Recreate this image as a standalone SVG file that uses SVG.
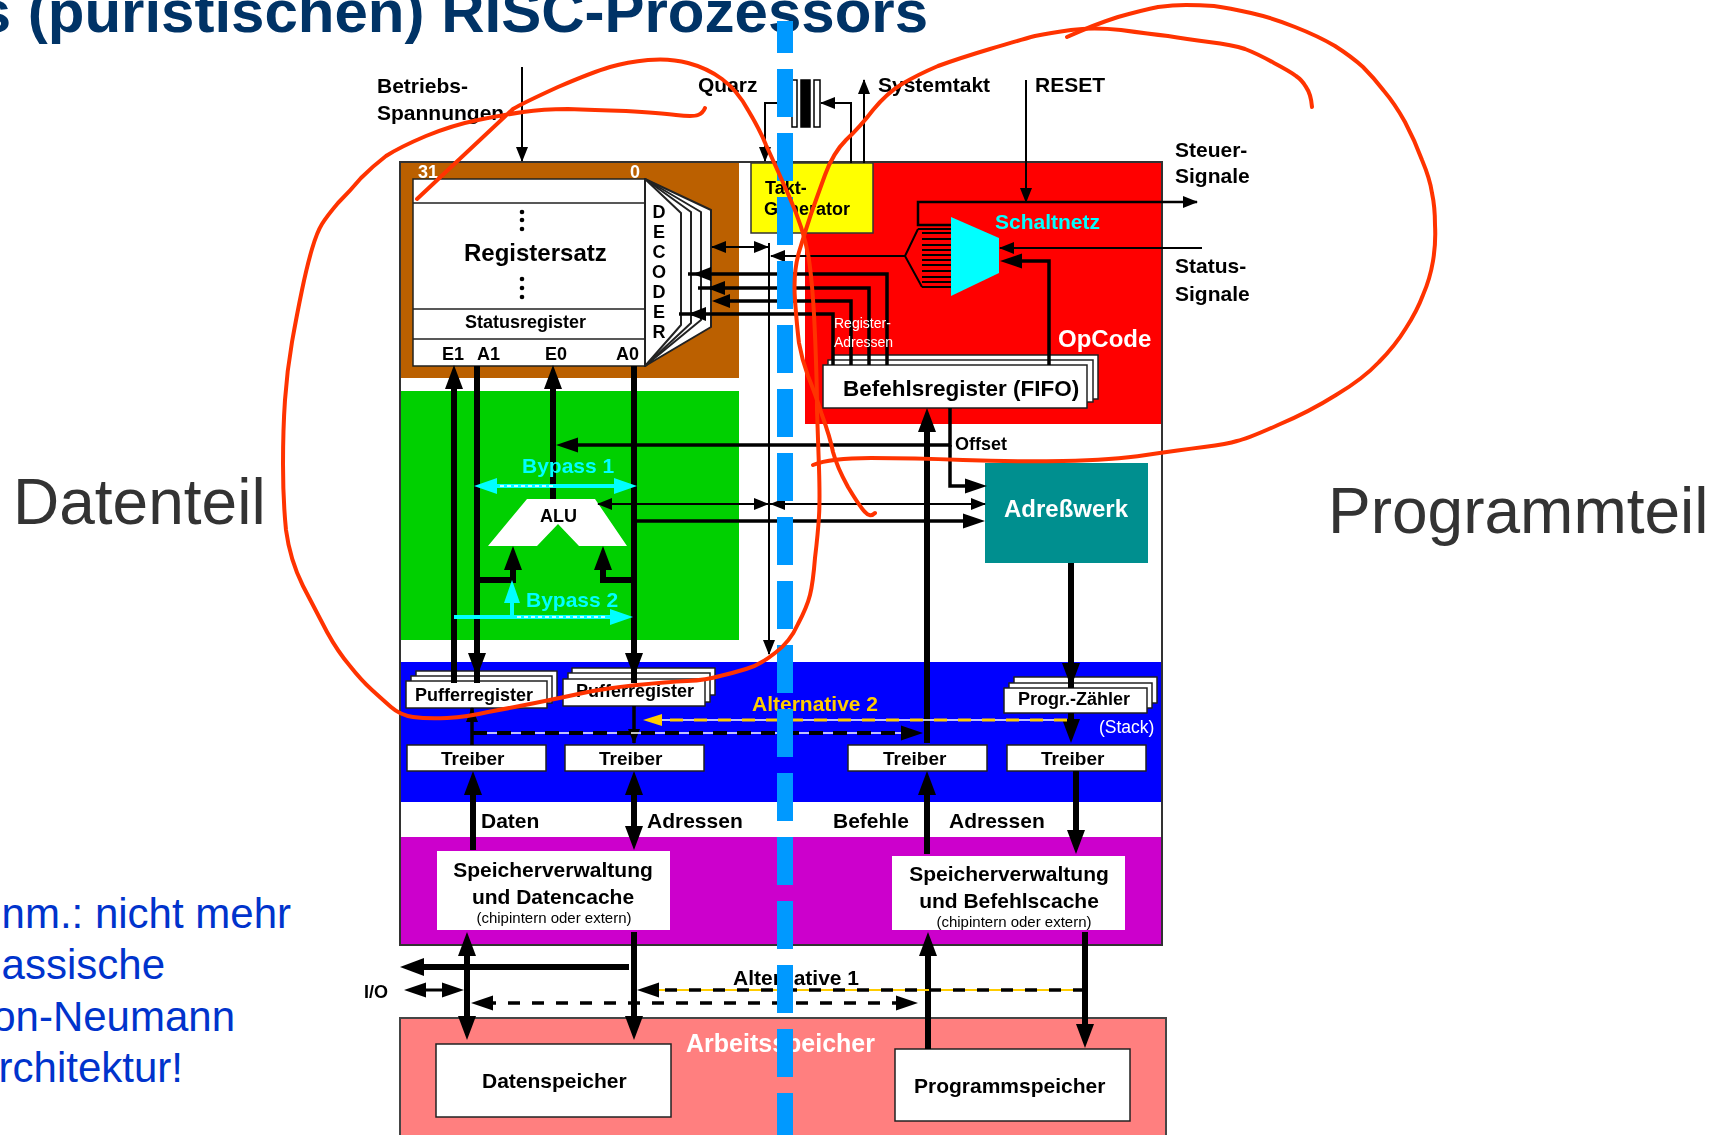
<svg xmlns="http://www.w3.org/2000/svg" width="1716" height="1135" viewBox="0 0 1716 1135">
<style>
text{font-family:"Liberation Sans",Arial,sans-serif;font-weight:bold;fill:#000}
.n{font-weight:normal}
.w{fill:#fff}.c{fill:#0ff}.y{fill:#fc0}
.s18{font-size:18px}.s19{font-size:19px}.s21{font-size:21px}.s24{font-size:24px}
.big{font-size:64px;font-weight:normal;fill:#333}
.note{font-size:42px;font-weight:normal;fill:#03c;text-anchor:end}
.box{fill:#fff;stroke:#222;stroke-width:1.5}
.m{text-anchor:middle}
.l{fill:none;stroke:#000}
.t1{stroke-width:2}.t3{stroke-width:3.5}.t6{stroke-width:6}
.ink{fill:none;stroke:#f30;stroke-width:4;stroke-linejoin:round;stroke-linecap:round}
</style>
<defs>
<filter id="soft" x="0" y="0" width="1" height="1" filterUnits="objectBoundingBox"><feGaussianBlur stdDeviation="0.5"/></filter>
<marker id="big" markerUnits="userSpaceOnUse" markerWidth="26" markerHeight="20" refX="12" refY="9" orient="auto-start-reverse" overflow="visible"><path d="M0 0L24 9L0 18Z"/></marker>
<marker id="med" markerUnits="userSpaceOnUse" markerWidth="24" markerHeight="16" refX="9" refY="7.5" orient="auto-start-reverse" overflow="visible"><path d="M0 0L22 7.5L0 15Z"/></marker>
<marker id="hd" markerUnits="userSpaceOnUse" markerWidth="20" markerHeight="16" refX="6" refY="7" orient="auto-start-reverse" overflow="visible"><path d="M0 0L18 7L0 14Z"/></marker>
<marker id="sm" markerUnits="userSpaceOnUse" markerWidth="16" markerHeight="14" refX="14" refY="6" orient="auto-start-reverse" overflow="visible"><path d="M0 0L15 6L0 12Z"/></marker>
<marker id="cy" markerUnits="userSpaceOnUse" markerWidth="24" markerHeight="18" refX="10" refY="8" orient="auto-start-reverse" overflow="visible"><path d="M0 0L23 8L0 16Z" fill="#0ff"/></marker>
<marker id="ye" markerUnits="userSpaceOnUse" markerWidth="20" markerHeight="14" refX="7" refY="6" orient="auto-start-reverse" overflow="visible"><path d="M0 0L19 6L0 12Z" fill="#fc0"/></marker>
</defs>
<rect width="1716" height="1135" fill="#fff"/>

<text id="title" x="928" y="32" text-anchor="end" style="font-size:60px;fill:#036">s (puristischen) RISC-Prozessors</text>

<g id="diagram" filter="url(#soft)">
<g id="panels">
<rect x="400" y="162" width="762" height="783" fill="#fff" stroke="#333" stroke-width="2"/>
<rect x="401" y="163" width="338" height="215" fill="#bb6000"/>
<rect x="401" y="391" width="338" height="249" fill="#00d000"/>
<path d="M873 163H1161V424H805V233H873Z" fill="#f00"/>
<rect x="401" y="662" width="760" height="140" fill="#00f"/>
<rect x="401" y="837" width="760" height="107" fill="#c0c"/>
<rect x="400" y="1018" width="766" height="130" fill="#ff7f7f" stroke="#444" stroke-width="2"/>
<text class="w s24" x="1058" y="347">OpCode</text>
<text class="w" x="686" y="1052" style="font-size:25px">Arbeitsspeicher</text>
</g>

<g id="registersatz">
<rect class="box" x="413" y="179" width="232" height="187" stroke-width="2"/>
<path d="M413 203H645M413 309H645M413 339H645" fill="none" stroke="#222" stroke-width="1.5"/>
<text class="w s18" x="418" y="178">31</text><text class="w s18" x="630" y="178">0</text>
<g fill="#000"><circle cx="522" cy="212" r="2.3"/><circle cx="522" cy="220" r="2.3"/><circle cx="522" cy="229" r="2.3"/><circle cx="522" cy="279" r="2.3"/><circle cx="522" cy="288" r="2.3"/><circle cx="522" cy="297" r="2.3"/></g>
<text class="s24" x="464" y="261">Registersatz</text>
<text class="s18" x="465" y="328">Statusregister</text>
<text class="s18" x="442" y="360">E1</text><text class="s18" x="477" y="360">A1</text><text class="s18" x="545" y="360">E0</text><text class="s18" x="616" y="360">A0</text>
</g>

<g id="decoder" fill="#fff" stroke="#222" stroke-width="2" stroke-linejoin="round">
<path d="M645 179L711 210V327L645 366Z"/>
<path d="M645 179L701 212V320L645 366Z"/>
<path d="M645 179L691 212V323L645 366Z"/>
<path d="M645 179L681 213V325L645 366Z"/>
<g stroke="none"><text class="s18 m" x="659" y="218">D</text><text class="s18 m" x="659" y="238">E</text><text class="s18 m" x="659" y="258">C</text><text class="s18 m" x="659" y="278">O</text><text class="s18 m" x="659" y="298">D</text><text class="s18 m" x="659" y="318">E</text><text class="s18 m" x="659" y="338">R</text></g>
</g>

<g id="taktgenerator">
<rect x="751" y="163" width="122" height="70" fill="#ff0" stroke="#333" stroke-width="1.5"/>
<text class="s18" x="765" y="194">Takt-</text><text class="s18" x="764" y="215">Generator</text>
</g>

<g id="quarz" stroke="#000" stroke-width="1.5">
<rect x="792" y="80" width="5" height="47" fill="#fff"/><rect x="801" y="80" width="9" height="47" fill="#000"/><rect x="814" y="80" width="6" height="47" fill="#fff"/>
</g>

<g id="schaltnetz">
<path d="M951 217L999 238V273L951 296Z" fill="#0ff"/>
<text class="c s21" x="995" y="229">Schaltnetz</text>
</g>

<g id="befehlsregister">
<rect class="box" x="833" y="355" width="265" height="44"/><rect class="box" x="828" y="360" width="265" height="42"/><rect class="box" x="823" y="365" width="264" height="43"/>
<text x="843" y="396" style="font-size:22.5px">Befehlsregister (FIFO)</text>
</g>

<g id="alu"><path d="M527 499H595L627 546H579L558 524L537 546H488Z" fill="#fff"/><text class="s18" x="540" y="522">ALU</text></g>

<g id="adresswerk"><rect x="985" y="463" width="163" height="100" fill="#008f8f"/><text class="w s24" x="1004" y="517">Adreßwerk</text></g>

<g id="puffer1"><rect class="box" x="416" y="671" width="141" height="28"/><rect class="box" x="411" y="676" width="141" height="27"/><rect class="box" x="406" y="681" width="141" height="27"/><text class="s18" x="415" y="701">Pufferregister</text></g>
<g id="puffer2"><rect class="box" x="572" y="668" width="143" height="27"/><rect class="box" x="568" y="673" width="142" height="29"/><rect class="box" x="563" y="679" width="142" height="27"/><text class="s18" x="576" y="697">Pufferregister</text></g>
<g id="progzaehler"><rect class="box" x="1014" y="677" width="143" height="26"/><rect class="box" x="1009" y="683" width="143" height="25"/><rect class="box" x="1004" y="688" width="143" height="25"/><text class="s18" x="1018" y="705">Progr.-Zähler</text></g>

<g id="treiber1"><rect class="box" x="407" y="745" width="139" height="26"/><text class="s19" x="441" y="765">Treiber</text></g>
<g id="treiber2"><rect class="box" x="565" y="745" width="139" height="26"/><text class="s19" x="599" y="765">Treiber</text></g>
<g id="treiber3"><rect class="box" x="848" y="745" width="139" height="26"/><text class="s19" x="883" y="765">Treiber</text></g>
<g id="treiber4"><rect class="box" x="1007" y="745" width="139" height="26"/><text class="s19" x="1041" y="765">Treiber</text></g>

<g id="datencache"><rect x="437" y="851" width="233" height="79" fill="#fff"/>
<text class="s21 m" x="553" y="877">Speicherverwaltung</text><text class="s21 m" x="553" y="904">und Datencache</text><text class="n m" x="554" y="923" style="font-size:15px">(chipintern oder extern)</text></g>
<g id="befehlscache"><rect x="892" y="856" width="233" height="74" fill="#fff"/>
<text class="s21 m" x="1009" y="881">Speicherverwaltung</text><text class="s21 m" x="1009" y="908">und Befehlscache</text><text class="n m" x="1014" y="927" style="font-size:15px">(chipintern oder extern)</text></g>
<g id="datenspeicher"><rect class="box" x="436" y="1044" width="235" height="73"/><text class="s21" x="482" y="1088">Datenspeicher</text></g>
<g id="programmspeicher"><rect class="box" x="895" y="1049" width="235" height="72"/><text class="s21" x="914" y="1093">Programmspeicher</text></g>

<g id="connectors">
<g class="l t6">
<path d="M454 683V377" marker-end="url(#big)"/>
<path d="M477 366V665" marker-end="url(#big)"/><path d="M477 665V683"/>
<path d="M553 499V377" marker-end="url(#big)"/>
<path d="M634 366V665" marker-end="url(#big)"/><path d="M634 665V683"/>
<path d="M477 580H513V558" marker-end="url(#big)"/>
<path d="M634 580H603V558" marker-end="url(#big)"/>
<path d="M473 850V783" marker-end="url(#big)"/>
<path d="M634 783V838" marker-start="url(#big)" marker-end="url(#big)"/>
<path d="M927 743V420" marker-end="url(#big)"/>
<path d="M927 854V783" marker-end="url(#big)"/>
<path d="M1071 563V675" marker-end="url(#big)"/><path d="M1071 675V688"/>
<path d="M1071 713V731" marker-end="url(#big)"/>
<path d="M1076 771V842" marker-end="url(#big)"/>
<path d="M928 1049V944" marker-end="url(#big)"/>
<path d="M467 944V1028" marker-start="url(#big)" marker-end="url(#big)"/>
<path d="M634 932V1028" marker-end="url(#big)"/>
<path d="M629 967H412" marker-end="url(#big)"/>
<path d="M1085 932V1036" marker-end="url(#big)"/>
</g>
<g class="l t3">
<path d="M950 408V445H569" marker-end="url(#med)"/>
<path d="M950 445V486H974" marker-end="url(#med)"/>
<path d="M634 521H972" marker-end="url(#med)"/>
<path d="M1049 365V261H1013" marker-end="url(#med)"/>
<path d="M887 365V274H705" marker-end="url(#hd)"/><path d="M705 274H688"/>
<path d="M869 365V288H719" marker-end="url(#hd)"/><path d="M719 288H698"/>
<path d="M851 365V301H724" marker-end="url(#hd)"/>
<path d="M833 365V314H700" marker-end="url(#hd)"/><path d="M700 314H679"/>
<path d="M472 745V708" marker-end="url(#sm)"/>
<path d="M634 706V743" marker-end="url(#sm)"/>
<path d="M417 990H451" stroke-width="3" marker-start="url(#med)" marker-end="url(#med)"/>
</g>
<g class="l t1">
<path d="M598 504H985" marker-start="url(#sm)" marker-end="url(#sm)"/>
<path d="M750 504H768" marker-end="url(#sm)"/>
<path d="M790 504H771" marker-end="url(#sm)"/>
<path d="M769 243V654" marker-end="url(#sm)"/>
<path d="M712 247H768" marker-start="url(#sm)" marker-end="url(#sm)"/>
<path d="M905 256H771" marker-end="url(#sm)"/>
<path d="M918 229L905 256L922 287M918 229H951M922 233H951M922 239H951M922 245H951M922 250H951M922 255H951M922 260H951M922 265H951M922 271H951M922 277H951M922 282H951M922 287H951"/>
<path d="M792 103H765V161" marker-end="url(#sm)"/>
<path d="M851 163V103H821" marker-end="url(#sm)"/>
<path d="M864 163V80" marker-end="url(#sm)"/>
<path d="M1026 80V202" marker-end="url(#sm)"/>
<path d="M522 67V161" marker-end="url(#sm)"/>
<path d="M951 225H918V202H1197" stroke-width="2.5" marker-end="url(#sm)"/>
<path d="M1202 248H1000" marker-end="url(#sm)"/>
</g>
<g fill="none">
<path d="M487 486H624" stroke="#0ff" stroke-width="4" marker-start="url(#cy)" marker-end="url(#cy)"/>
<path d="M500 486H553" stroke="#fff" stroke-width="1.5" stroke-dasharray="4 3"/>
<path d="M454 617H620" stroke="#0ff" stroke-width="4" marker-end="url(#cy)"/>
<path d="M517 617H606" stroke="#fff" stroke-width="1.5" stroke-dasharray="4 3"/>
<path d="M512 617V593" stroke="#0ff" stroke-width="4" marker-end="url(#cy)"/>
<path d="M1067 720H660" stroke="#fff" stroke-width="1.5"/>
<path d="M1067 720H655" stroke="#fc0" stroke-width="3" stroke-dasharray="13 11" marker-end="url(#ye)"/>
<path d="M473 733H910" stroke="#fff" stroke-width="1.5"/>
<path d="M473 733H910" stroke="#000" stroke-width="4" stroke-dasharray="14 10" marker-end="url(#med)"/>
<path d="M650 990H1085" stroke="#fc0" stroke-width="2"/>
<path d="M1085 990H650" stroke="#000" stroke-width="3.5" stroke-dasharray="12 12" marker-end="url(#med)"/>
<path d="M484 1003H905" stroke="#000" stroke-width="3.5" stroke-dasharray="12 12" marker-start="url(#med)" marker-end="url(#med)"/>
</g>
</g>

<g id="labels">
<text class="s21" x="377" y="93">Betriebs-</text><text class="s21" x="377" y="120">Spannungen</text>
<text class="s21" x="698" y="92">Quarz</text>
<text class="s21" x="878" y="92">Systemtakt</text>
<text class="s21" x="1035" y="92">RESET</text>
<text class="s21" x="1175" y="157">Steuer-</text><text class="s21" x="1175" y="183">Signale</text>
<text class="s21" x="1175" y="273">Status-</text><text class="s21" x="1175" y="301">Signale</text>
<text class="w n" x="834" y="328" style="font-size:14px">Register-</text><text class="w n" x="834" y="347" style="font-size:14px">Adressen</text>
<text class="s18" x="955" y="450">Offset</text>
<text class="c s21" x="522" y="473">Bypass 1</text>
<text class="c s21" x="526" y="607">Bypass 2</text>
<text class="y s21" x="752" y="711">Alternative 2</text>
<text class="w n" x="1099" y="733" style="font-size:17.5px">(Stack)</text>
<text class="s21" x="481" y="828">Daten</text><text class="s21" x="647" y="828">Adressen</text>
<text class="s21" x="833" y="828">Befehle</text><text class="s21" x="949" y="828">Adressen</text>
<text class="s21" x="733" y="985">Alternative 1</text>
<text class="s18" x="364" y="998">I/O</text>
</g>
</g>

<g id="divider" fill="none" stroke="#09f" stroke-width="16">
<path d="M785 21V53"/>
<path d="M785 69V1135" stroke-dasharray="48 16"/>
</g>

<g id="annotations">
<path class="ink" d="M705 108Q703 113 698 115Q693 117 676 115Q660 113 626 111Q593 110 568 109Q543 109 523 112Q503 115 478 120Q453 125 426 136Q400 147 386 156Q373 166 361 178Q350 191 338 203Q327 216 322 224Q317 232 312 249Q307 266 302 290Q297 314 292 342Q287 371 285 400Q283 429 283 464Q283 500 286 530Q290 560 303 586Q317 613 327 632Q338 652 350 666Q361 680 372 690Q383 700 391 707Q400 715 413 717Q427 719 447 718Q467 717 488 712Q510 708 535 703Q560 698 583 693Q607 688 637 685Q667 682 687 681Q707 680 720 676Q733 673 746 669Q760 665 775 653Q790 642 798 624Q807 607 810 595Q813 583 815 558Q818 533 819 516Q820 500 819 468Q818 437 817 410Q817 383 815 335Q813 287 809 260Q805 232 789 196Q773 160 766 145Q760 130 748 110Q737 90 722 79Q707 68 688 63Q670 58 648 60Q627 62 610 67Q593 72 558 87Q523 103 513 109L417 199"/>
<path class="ink" d="M1312 107Q1311 94 1306 87Q1302 80 1296 76Q1291 72 1274 63Q1258 54 1245 49Q1233 45 1209 42Q1186 39 1168 36Q1150 34 1121 30Q1093 27 1071 30Q1050 33 1035 36Q1020 40 990 49Q960 58 938 66Q917 75 902 84Q887 93 873 110Q860 127 846 140Q833 153 825 175Q817 197 811 214Q805 232 799 252Q793 273 795 300Q797 327 799 343Q802 360 808 376Q815 393 822 415Q830 437 833 452Q837 467 848 487Q860 507 865 512Q870 518 875 513"/>
<path class="ink" d="M1067 37Q1093 25 1118 17Q1143 10 1158 7Q1173 5 1186 5Q1200 5 1214 6Q1229 8 1251 13Q1273 18 1295 27Q1318 36 1335 46Q1352 57 1363 67Q1374 78 1384 91Q1395 104 1405 122Q1415 141 1422 160Q1430 179 1432 193Q1435 207 1435 225Q1436 243 1433 261Q1430 279 1423 295Q1417 311 1406 328Q1395 346 1379 362Q1363 379 1336 395Q1309 412 1278 425Q1247 439 1237 441Q1228 444 1204 447Q1180 450 1146 455Q1113 460 1063 461Q1013 462 963 460Q913 458 871 458Q830 458 813 465"/>
</g>

<text class="big" x="13" y="524">Datenteil</text>
<text class="big" x="1328" y="533">Programmteil</text>
<g id="note">
<text class="note" x="291" y="928">nm.: nicht mehr</text>
<text class="note" x="165" y="979">assische</text>
<text class="note" x="235" y="1031">on-Neumann</text>
<text class="note" x="183" y="1082">rchitektur!</text>
</g>
</svg>
